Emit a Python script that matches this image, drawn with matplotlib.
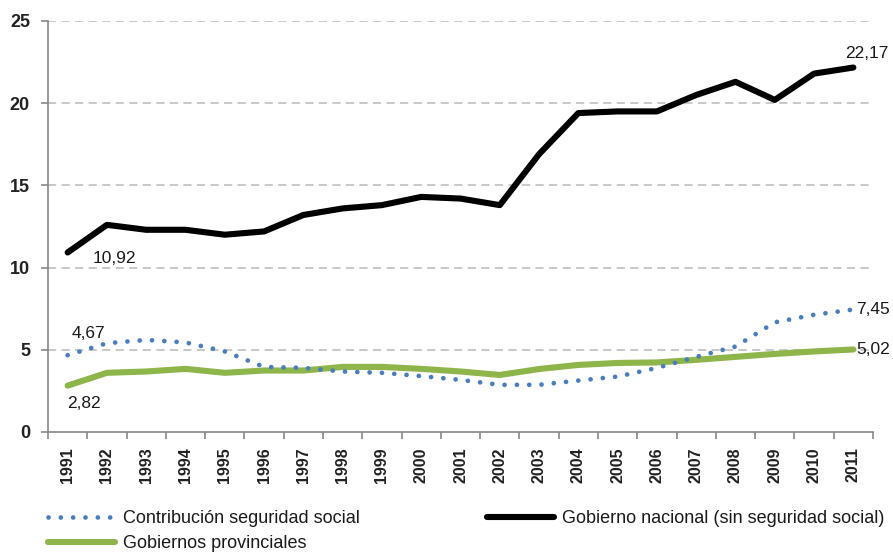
import matplotlib
matplotlib.use("Agg")
import matplotlib.pyplot as plt
from matplotlib.lines import Line2D
import numpy as np

plt.rcParams['font.family'] = ['Liberation Sans', 'DejaVu Sans']

years = [str(y) for y in range(1991, 2012)]
seguridad_social = [4.67, 5.40, 5.60, 5.45, 4.90, 3.96, 3.90, 3.68, 3.60, 3.40, 3.17,
                    2.87, 2.87, 3.13, 3.37, 3.90, 4.57, 5.20, 6.67, 7.13, 7.45]
gobierno_nacional = [10.92, 12.60, 12.30, 12.30, 12.00, 12.20, 13.20, 13.60, 13.80, 14.30, 14.20,
                     13.80, 16.90, 19.40, 19.50, 19.50, 20.50, 21.30, 20.20, 21.80, 22.17]
provinciales = [2.82, 3.60, 3.68, 3.84, 3.60, 3.74, 3.74, 3.96, 3.96, 3.84, 3.68,
                3.47, 3.83, 4.08, 4.20, 4.23, 4.39, 4.57, 4.75, 4.90, 5.02]
yticks = [0, 5, 10, 15, 20, 25]

W, H = 893, 554
fig = plt.figure(figsize=(W / 100, H / 100), dpi=100)
ax = fig.add_axes([48 / W, 1 - 432 / H, (873 - 48) / W, (432 - 21) / H])

x = np.arange(len(years))
blue = '#4a7ebb'
green = '#8db54a'
dot_style = (0, (0.01, 2.6))

ax.plot(x, seguridad_social, color=blue, linestyle=dot_style, linewidth=3.4,
        dash_capstyle='round', zorder=3)
ax.plot(x, provinciales, color=green, linewidth=4.4, solid_capstyle='round', zorder=2)
ax.plot(x, gobierno_nacional, color='black', linewidth=4.4, solid_capstyle='round', zorder=4)

ax.set_xlim(-0.5, len(years) - 0.5)
ax.set_ylim(0, 25)
ax.set_yticks(yticks)
ax.set_yticklabels([str(v) for v in yticks])
ax.set_xticks(x)
ax.set_xticklabels(years, rotation=90)
ax.set_xticks(np.arange(-0.5, len(years)), minor=True)
ax.tick_params(axis='x', which='major', length=0, pad=11, labelsize=11.5)
ax.tick_params(axis='x', which='minor', length=5, color='#888888', width=1.2)
ax.tick_params(axis='y', length=5, color='#888888', width=1.2, labelsize=13, pad=8)
for lbl in ax.get_xticklabels() + ax.get_yticklabels():
    lbl.set_fontweight('bold')
    lbl.set_color('#222222')

for v in yticks[1:]:
    ax.axhline(v, color='#c4c4c4', linestyle=(0, (4.5, 3)), linewidth=1.3, zorder=1)

for s in ['top', 'right']:
    ax.spines[s].set_visible(False)
for s in ['left', 'bottom']:
    ax.spines[s].set_color('#888888')
    ax.spines[s].set_linewidth(1.2)

fs = 12.5
tc = '#1a1a1a'
ax.annotate('10,92', (x[0], gobierno_nacional[0]), xytext=(34, -4), textcoords='offset points',
            fontsize=fs, ha='center', va='center', color=tc)
ax.annotate('22,17', (x[-1], gobierno_nacional[-1]), xytext=(10, 10), textcoords='offset points',
            fontsize=fs, ha='center', va='center', color=tc)
ax.annotate('4,67', (x[0], seguridad_social[0]), xytext=(15, 16), textcoords='offset points',
            fontsize=fs, ha='center', va='center', color=tc)
ax.annotate('2,82', (x[0], provinciales[0]), xytext=(12, -13), textcoords='offset points',
            fontsize=fs, ha='center', va='center', color=tc)
ax.annotate('7,45', (x[-1], seguridad_social[-1]), xytext=(2, 0), textcoords='offset points',
            fontsize=fs, ha='left', va='center', annotation_clip=False, color=tc)
ax.annotate('5,02', (x[-1], provinciales[-1]), xytext=(2, 0), textcoords='offset points',
            fontsize=fs, ha='left', va='center', annotation_clip=False, color=tc)

handles = [
    Line2D([], [], color=blue, linestyle=dot_style, linewidth=3.4, dash_capstyle='round'),
    Line2D([], [], color=green, linewidth=4.4, solid_capstyle='round'),
    Line2D([], [], color='black', linewidth=4.4, solid_capstyle='round'),
]
labels = ['Contribución seguridad social', 'Gobiernos provinciales',
          'Gobierno nacional (sin seguridad social)']
leg = fig.legend(handles, labels, loc='upper left', bbox_to_anchor=(48 / W, 1 - 510 / H),
                 ncol=2, frameon=False, fontsize=13, handlelength=3.7, handletextpad=0.45,
                 columnspacing=7.05, labelspacing=0.45, borderaxespad=0, borderpad=0)
for t in leg.get_texts():
    t.set_color(tc)

fig.savefig('out.png', dpi=100)
